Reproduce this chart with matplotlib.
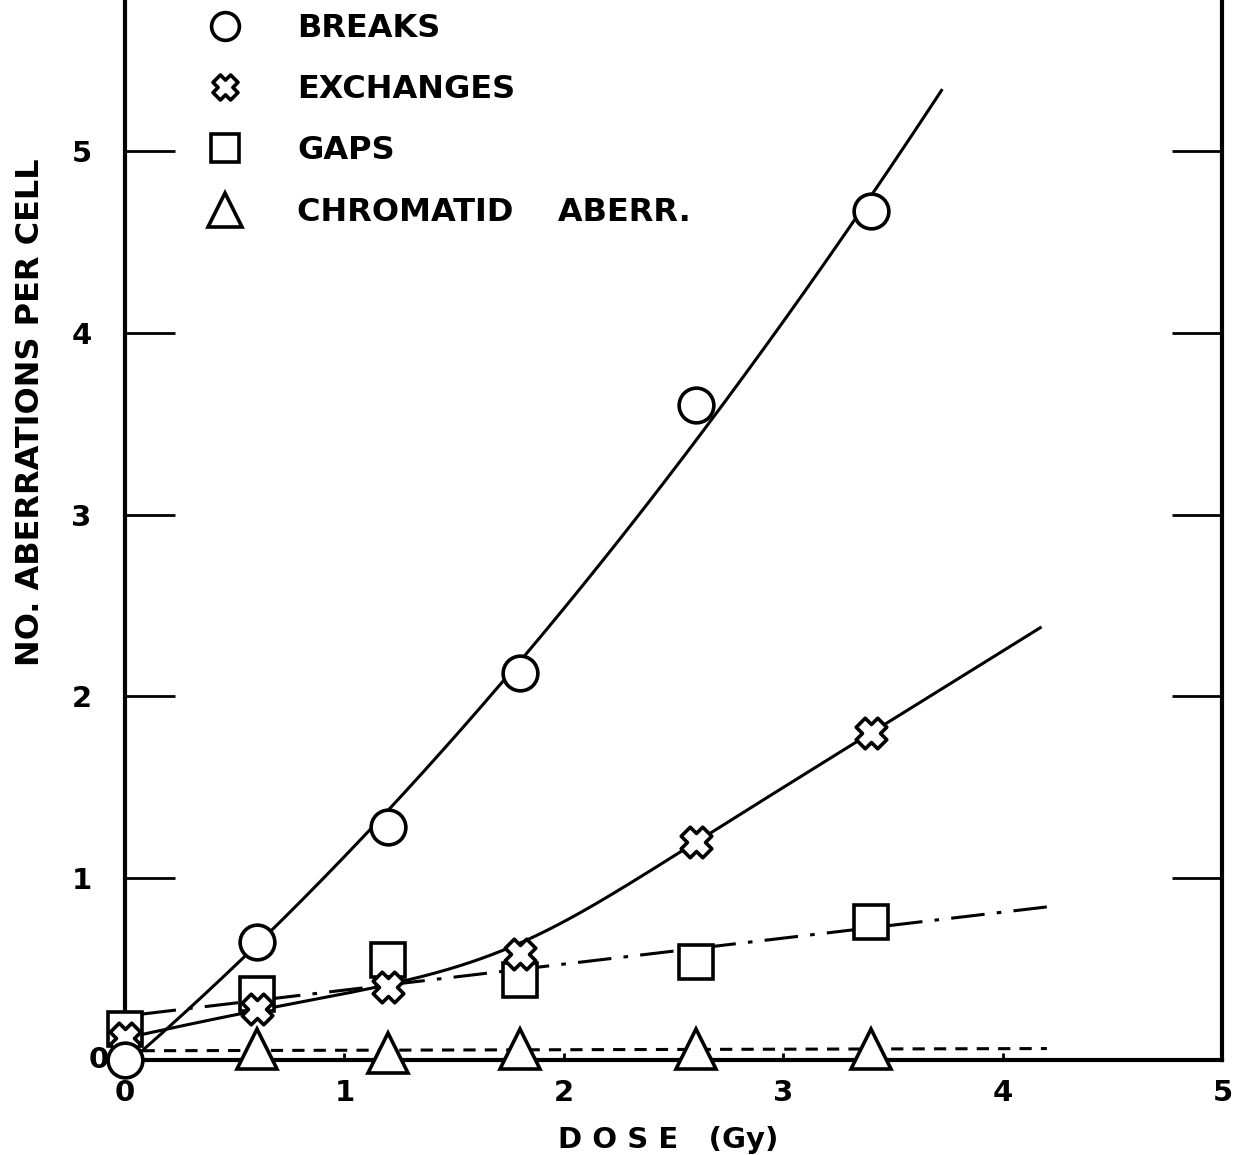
import numpy as np
import matplotlib
matplotlib.use("Agg")
import matplotlib.pyplot as plt
from matplotlib.path import Path
from matplotlib.lines import Line2D

# Dose points (Gy) and aberration yields per cell
dose = [0.0, 0.6, 1.2, 1.8, 2.6, 3.4]
breaks = [0.0, 0.65, 1.28, 2.13, 3.6, 4.67]
exchanges = [0.12, 0.28, 0.40, 0.58, 1.20, 1.80]
gaps = [0.17, 0.36, 0.55, 0.44, 0.54, 0.76]
chromatid = [0.0, 0.06, 0.04, 0.06, 0.06, 0.06]

x_ticks = [0, 1, 2, 3, 4, 5]
y_ticks = [1, 2, 3, 4, 5]

FONT = "DejaVu Sans"
plt.rcParams["font.family"] = [FONT]

# hollow cross marker with rounded arms, tilted 45 degrees
w, L = 0.42, 1.0
plus = np.array([
    [w, w], [w, L], [-w, L], [-w, w], [-L, w], [-L, -w],
    [-w, -w], [-w, -L], [w, -L], [w, -w], [L, -w], [L, w], [w, w]])
ang = np.deg2rad(45)
rot = np.array([[np.cos(ang), -np.sin(ang)], [np.sin(ang), np.cos(ang)]])
cross_marker = Path(plus @ rot.T, closed=True)


def smooth_through(xs, ys, x0, x1, sigma=0.22, step=0.01):
    """Gaussian-smoothed polyline through the points, extended linearly."""
    xs = np.asarray(xs, float)
    ys = np.asarray(ys, float)
    grid = np.arange(x0 - 1.5, x1 + 1.5 + step, step)
    yy = np.interp(grid, xs, ys)
    hi = (ys[-1] - ys[-2]) / (xs[-1] - xs[-2])
    lo = (ys[1] - ys[0]) / (xs[1] - xs[0])
    yy = np.where(grid > xs[-1], ys[-1] + hi * (grid - xs[-1]), yy)
    yy = np.where(grid < xs[0], ys[0] + lo * (grid - xs[0]), yy)
    k = np.arange(-4 * sigma, 4 * sigma + step, step)
    kern = np.exp(-0.5 * (k / sigma) ** 2)
    kern /= kern.sum()
    ys_s = np.convolve(yy, kern, mode="same")
    keep = (grid >= x0) & (grid <= x1)
    return grid[keep], ys_s[keep]


fig = plt.figure(figsize=(12.45, 11.55), dpi=100)
ax = fig.add_axes([0.1004, 0.0823, 0.8815, 0.9177])
ax.set_xlim(0, 5)
ax.set_ylim(0, 5.83)

for side in ("left", "right", "bottom"):
    ax.spines[side].set_linewidth(3.0)
ax.spines["top"].set_visible(False)

# fitted curves
d = np.array(dose)
fb = np.polyfit(d, breaks, 2)
xb = np.linspace(0.08, 3.72, 200)
ax.plot(xb, np.polyval(fb, xb), color="black", lw=2.2, zorder=2)

xe, ye = smooth_through(dose, exchanges, 0.08, 4.18, sigma=0.33)
ax.plot(xe, ye, color="black", lw=2.2, zorder=2)

fg = np.polyfit(d, gaps, 1)
xg = np.linspace(0.08, 4.25, 50)
ax.plot(xg, np.polyval(fg, xg), color="black", lw=2.2, zorder=2,
        dashes=(11, 4, 1.5, 4))

fc = np.polyfit(d[1:], chromatid[1:], 1)
xc = np.linspace(0.08, 4.2, 50)
ax.plot(xc, np.polyval(fc, xc), color="black", lw=2.2, zorder=2,
        dashes=(4, 3))

mk = dict(linestyle="none", markerfacecolor="white", markeredgecolor="black",
          markeredgewidth=2.6, clip_on=False)
ax.plot(dose, gaps, marker="s", markersize=24, zorder=4, **mk)
ax.plot(dose, exchanges, marker=cross_marker, markersize=22, zorder=5, **mk)
ax.plot(dose, breaks, marker="o", markersize=25, zorder=6, **mk)
ax.plot(dose[1:], chromatid[1:], marker="^", markersize=29, zorder=6, **mk)

# ticks
ax.set_xticks(x_ticks)
ax.set_xticklabels([str(t) for t in x_ticks], fontweight="bold")
ax.tick_params(axis="x", direction="in", length=5, width=2, pad=14,
               labelsize=21)
ax.set_yticks(y_ticks)
ax.set_yticklabels([str(t) for t in y_ticks], fontweight="bold")
ax.tick_params(axis="y", direction="in", length=36, width=2, pad=24,
               labelsize=21, right=True)
ax.text(-0.12, 0.0, "0", ha="center", va="center", fontsize=21,
        fontweight="bold", transform=ax.transData, clip_on=False)

ax.set_ylabel("NO. ABERRATIONS PER CELL", fontsize=23, fontweight="bold")
ax.yaxis.set_label_coords(-0.072, 0.611)
ax.set_xlabel("D O S E   (Gy)", fontsize=21, fontweight="bold")
ax.xaxis.set_label_coords(0.495, -0.062)

handles = [
    Line2D([], [], marker="o", markersize=20, **mk),
    Line2D([], [], marker=cross_marker, markersize=18, **mk),
    Line2D([], [], marker="s", markersize=20, **mk),
    Line2D([], [], marker="^", markersize=24, **mk),
]
labels = ["BREAKS", "EXCHANGES", "GAPS", "CHROMATID    ABERR."]
leg = ax.legend(handles, labels, loc="upper left",
                bbox_to_anchor=(0.065, 1.0), frameon=False,
                prop={"family": FONT, "weight": "bold", "size": 23},
                handlelength=1.0, handletextpad=1.75, labelspacing=0.95,
                borderaxespad=0.0)

fig.savefig("out.png", dpi=100)
